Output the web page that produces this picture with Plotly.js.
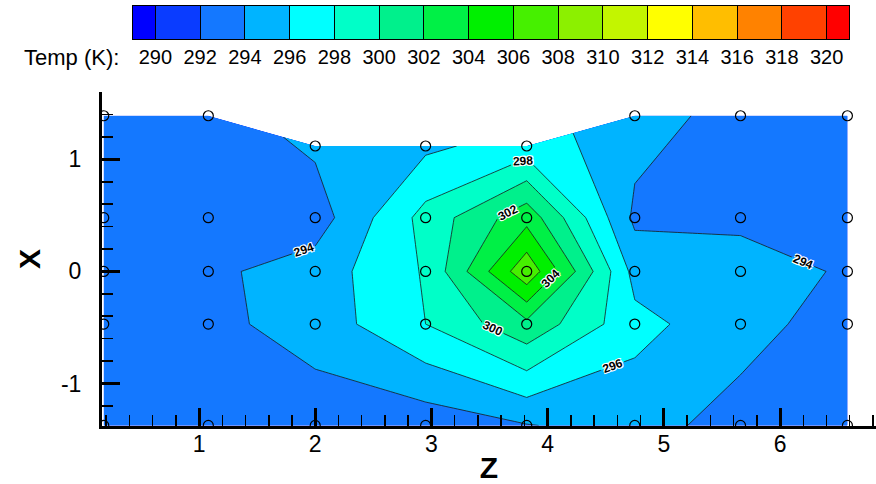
<!DOCTYPE html>
<html><head><meta charset="utf-8">
<script src="https://cdn.plot.ly/plotly-3.0.1.min.js"></script>
<style>html,body{margin:0;padding:0;background:#fff}#chart{width:876px;height:484px}</style>
</head><body><div id="chart"></div>
<script>
// Z positions of the measurement columns
const zCols = [0.18, 1.08, 2.0, 2.95, 3.82, 4.75, 5.66, 6.58];
// X positions of the lower rows (same for every column)
const xRows = [-1.375, -0.47, 0, 0.48];
// X position of the top row, per column
const xTop = [1.39, 1.39, 1.12, 1.12, 1.12, 1.39, 1.39, 1.39];
// Temperature (K) per row, bottom to top, one value per column
const tRow0 = [292.8, 292.8, 293.0, 292.8, 293.9, 294.8, 293.2, 293.0];
const tRow1 = [293.0, 293.5, 294.8, 298.0, 301.5, 296.6, 294.8, 293.0];
const tRow2 = [293.0, 293.6, 294.9, 298.2, 307.5, 295.3, 294.8, 293.8];
const tRow3 = [293.0, 293.3, 293.0, 298.7, 303.3, 293.6, 293.6, 293.2];
const tRow4 = [293.0, 293.3, 294.3, 295.6, 296.9, 294.8, 293.3, 293.0];
// contour levels / colour bar tick labels
const levels = [290, 292, 294, 296, 298, 300, 302, 304, 306, 308, 310, 312, 314, 316, 318, 320];
const levelText = ['290', '292', '294', '296', '298', '300', '302', '304', '306', '308', '310', '312', '314', '316', '318', '320'];
// band colours: below 290, 290-292, ..., 318-320, above 320
const bandColors = ['#0000FF', '#0A3CFF', '#1478FF', '#00B4FF', '#00FFFF', '#00FFC8', '#00F08C',
  '#00F046', '#00F000', '#46F000', '#8CF000', '#C3F500', '#FFFF00', '#FFBE00', '#FF8200', '#FF4100', '#FF0000'];
// axis tick labels
const zTicks = [1, 2, 3, 4, 5, 6];
const xTicks = [-1, 0, 1];
const xTickText = ['-1', '0', '1'];

const temps = [tRow0, tRow1, tRow2, tRow3, tRow4];
const rowIdx = temps.map((_, i) => i);
const zGrid = rowIdx.map(() => zCols.slice());
const xGrid = rowIdx.map(r => r < xRows.length ? zCols.map(() => xRows[r]) : xTop.slice());
const colorscale = bandColors.map((c, i) => [i / (bandColors.length - 1), c]);
const step = levels[1] - levels[0];
const lo = levels[0] - step / 2, hi = levels[levels.length - 1] + step / 2;
// colour bar: band edges and band mid values
const barEdges = [lo].concat(levels, [hi]);
const barMids = [lo].concat(levels.map(v => v + step / 2));

const axisOff = {showgrid: false, showline: false, startline: false, endline: false,
  showticklabels: 'none', smoothing: 0, minorgridcount: 0, title: {text: ''}};

const traces = [
  {type: 'carpet', carpet: 'grid', a: zCols, b: rowIdx, x: zGrid, y: xGrid,
   aaxis: axisOff, baxis: axisOff, xaxis: 'x', yaxis: 'y'},
  {type: 'contourcarpet', carpet: 'grid', a: zCols, b: rowIdx, z: temps,
   autocontour: false, showscale: false,
   contours: {start: levels[0], end: levels[levels.length - 1], size: step, coloring: 'fill',
     showlines: true, showlabels: true,
     labelfont: {family: 'Liberation Sans, Arial, sans-serif', size: 12, color: 'black', weight: 'bold',
       shadow: '1px 1px 0 #fff, -1px -1px 0 #fff, 1px -1px 0 #fff, -1px 1px 0 #fff'}},
   line: {color: '#1a1a1a', width: 0.8, smoothing: 0},
   colorscale: colorscale},
  {type: 'scatter', mode: 'markers', x: zGrid.flat(), y: xGrid.flat(),
   marker: {symbol: 'circle-open', size: 10, color: 'black', line: {width: 1.2}}, hoverinfo: 'skip'},
  {type: 'heatmap', x: barEdges, y: [0, 1], z: [barMids], zmin: lo, zmax: hi,
   colorscale: colorscale, showscale: false, xaxis: 'x2', yaxis: 'y2', hoverinfo: 'skip'}
];

const axisCommon = {showline: true, linewidth: 3, linecolor: 'black', ticks: 'inside', ticklen: 18,
  tickwidth: 3, tickcolor: 'black', tickmode: 'array', showgrid: false, zeroline: false,
  minor: {dtick: 0.2, tick0: 0, ticks: 'inside', ticklen: 11, tickwidth: 1.5, tickcolor: 'black', showgrid: false},
  tickfont: {size: 23, color: 'black'}, fixedrange: true};

const layout = {
  width: 876, height: 484, margin: {l: 0, r: 0, t: 0, b: 0, pad: 0},
  paper_bgcolor: 'white', plot_bgcolor: 'white', showlegend: false,
  font: {family: 'Liberation Sans, Arial, sans-serif', color: 'black'},
  xaxis: Object.assign({}, axisCommon, {domain: [102 / 876, 1], anchor: 'y', range: [0.165, 6.826],
    tickvals: zTicks, ticklabelstandoff: -5,
    title: {text: '<b>Z</b>', font: {size: 30}, standoff: 11}}),
  yaxis: Object.assign({}, axisCommon, {domain: [58 / 484, 392 / 484], anchor: 'x', range: [-1.38, 1.602],
    tickvals: xTicks, ticktext: xTickText, ticklabelstandoff: 13,
    title: {text: '<b>X</b>', font: {size: 30}, standoff: 12}}),
  xaxis2: {domain: [133 / 876, 849 / 876], anchor: 'y2', range: [lo, hi], tickmode: 'array',
    tickvals: levels, ticktext: levelText, ticks: 'inside', ticklen: 33, tickwidth: 1, tickcolor: 'black',
    showline: true, mirror: true, linecolor: 'black', linewidth: 1, showgrid: false, zeroline: false,
    tickfont: {size: 20, color: 'black'}, ticklabelstandoff: 0, layer: 'above traces', fixedrange: true},
  yaxis2: {domain: [(484 - 39) / 484, (484 - 6) / 484], anchor: 'x2', range: [0, 1], showticklabels: false,
    ticks: '', showline: true, mirror: true, linecolor: 'black', linewidth: 1, showgrid: false,
    zeroline: false, fixedrange: true},
  annotations: [{text: 'Temp (K):', xref: 'paper', yref: 'paper', x: 22 / 876, y: (484 - 57) / 484,
    xanchor: 'left', yanchor: 'middle', showarrow: false, font: {size: 22, color: 'black'}}]
};

Plotly.newPlot('chart', traces, layout, {displayModeBar: false, staticPlot: true});
</script></body></html>
